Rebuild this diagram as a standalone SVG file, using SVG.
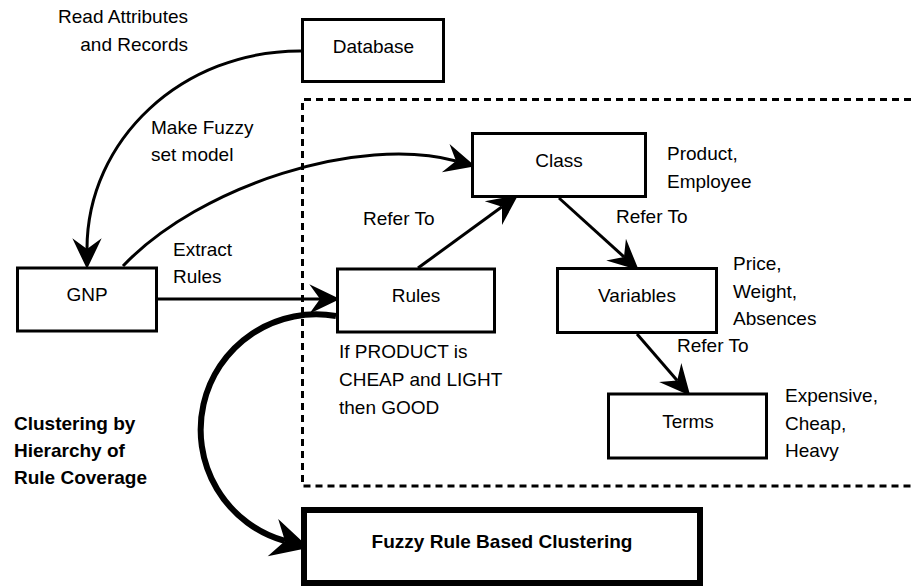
<svg xmlns="http://www.w3.org/2000/svg" width="911" height="586" viewBox="0 0 911 586">
<defs>
<style>
text{font-family:"Liberation Sans",Arial,sans-serif;font-size:19px;fill:#000}
.b{font-weight:bold}
.box{fill:#fff;stroke:#000;stroke-width:3}
.thick{fill:#fff;stroke:#000;stroke-width:6}
.c{text-anchor:middle}
.e{text-anchor:end}
.ln{fill:none;stroke:#000;stroke-width:3}
.lnt{fill:none;stroke:#000;stroke-width:6}
.dash{fill:none;stroke:#000;stroke-width:3;stroke-dasharray:7 5}
</style>
<marker id="arr" markerUnits="userSpaceOnUse" orient="auto" refX="0" refY="0" markerWidth="40" markerHeight="40" viewBox="-10 -15 30 30" overflow="visible">
<path d="M15,0 L-8,-11 L0,0 L-8,11 Z" fill="#000"/>
</marker>
<marker id="arrT" markerUnits="userSpaceOnUse" orient="auto" refX="0" refY="0" markerWidth="50" markerHeight="50" viewBox="-12 -18 36 36" overflow="visible">
<path d="M18,0 L-9,-14 L0,0 L-9,14 Z" fill="#000"/>
</marker>
</defs>
<rect width="911" height="586" fill="#fff"/>

<g id="scope">
<path class="dash" d="M911,99.5 H302.5 V486 H911"/>
</g>

<g id="connectors">
<path class="ln" d="M302,51 C182,50 87,140 87,249" marker-end="url(#arr)"/>
<path class="ln" d="M123,266 C200,185 360,135 456,161" marker-end="url(#arr)"/>
<path class="ln" d="M158,299 L320,299" marker-end="url(#arr)"/>
<path class="ln" d="M418,268 L502,206.8" marker-end="url(#arr)"/>
<path class="ln" d="M559,198 L624,256.9" marker-end="url(#arr)"/>
<path class="ln" d="M637,334 L677.2,380.6" marker-end="url(#arr)"/>
<path class="lnt" d="M336,316 A115.5,115.5 0 0,0 285,541" marker-end="url(#arrT)"/>
<text class="e" x="188" y="23">Read Attributes</text>
<text class="e" x="188" y="51">and Records</text>
<text x="151" y="134">Make Fuzzy</text>
<text x="151" y="161">set model</text>
<text x="173" y="256">Extract</text>
<text x="173" y="283">Rules</text>
<text x="363" y="225">Refer To</text>
<text x="616" y="223">Refer To</text>
<text x="677" y="352">Refer To</text>
<text class="b" x="14" y="429.5">Clustering by</text>
<text class="b" x="14" y="457">Hierarchy of</text>
<text class="b" x="14" y="484">Rule Coverage</text>
</g>

<g id="database">
<rect class="box" x="302.5" y="19.5" width="141" height="62"/>
<text class="c" x="373.5" y="53">Database</text>
</g>

<g id="class">
<rect class="box" x="472.5" y="133.5" width="173" height="63"/>
<text class="c" x="559" y="167">Class</text>
<text x="667" y="160">Product,</text>
<text x="667" y="188">Employee</text>
</g>

<g id="gnp">
<rect class="box" x="17.5" y="268" width="139" height="63"/>
<text class="c" x="87" y="301">GNP</text>
</g>

<g id="rules">
<rect class="box" x="337.5" y="269" width="157" height="63"/>
<text class="c" x="416" y="302">Rules</text>
<text x="339" y="358">If PRODUCT is</text>
<text x="339" y="386">CHEAP and LIGHT</text>
<text x="339" y="413.5">then GOOD</text>
</g>

<g id="variables">
<rect class="box" x="557.5" y="268.5" width="159" height="64"/>
<text class="c" x="637" y="302">Variables</text>
<text x="733" y="269.5">Price,</text>
<text x="733" y="297.5">Weight,</text>
<text x="733" y="324.5">Absences</text>
</g>

<g id="terms">
<rect class="box" x="608.5" y="394" width="158" height="64"/>
<text class="c" x="688" y="428">Terms</text>
<text x="785" y="402">Expensive,</text>
<text x="785" y="429.5">Cheap,</text>
<text x="785" y="457">Heavy</text>
</g>

<g id="fuzzy-clustering">
<rect class="thick" x="304" y="510" width="396" height="73"/>
<text class="c b" x="502" y="548">Fuzzy Rule Based Clustering</text>
</g>
</svg>
